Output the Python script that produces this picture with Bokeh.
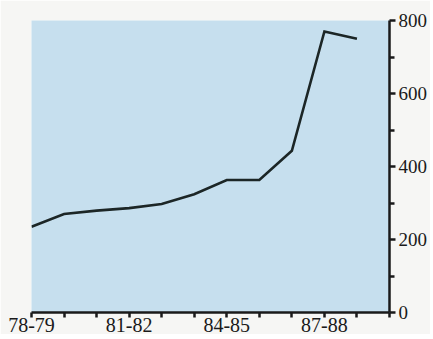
from bokeh.plotting import figure
from bokeh.models import FixedTicker, Range1d
from bokeh.embed import file_html
from bokeh.resources import INLINE

years = ["78-79", "79-80", "80-81", "81-82", "82-83", "83-84", "84-85",
         "85-86", "86-87", "87-88", "88-89", "89-90"]
labelled = ["78-79", "81-82", "84-85", "87-88"]
values = [235, 270, 279, 286, 297, 324, 363, 363, 443, 770, 750]
y_ticks = [0, 200, 400, 600, 800]
y_minor = [100, 300, 500, 700]

xs = list(range(len(values)))
FONT = "Liberation Serif"

p = figure(frame_width=358, frame_height=292, output_backend="svg",
           toolbar_location=None, y_axis_location="right",
           x_range=Range1d(0, len(years) - 1), y_range=Range1d(0, 800),
           min_border_left=31, min_border_top=20, min_border_right=0,
           min_border_bottom=0)
p.background_fill_color = "#c6dfee"
p.border_fill_color = "#f6f6f4"
p.outline_line_color = None
p.xgrid.visible = False
p.ygrid.visible = False

p.line(xs, values, line_color="#1c2626", line_width=2.6, line_join="miter")

xa = p.xaxis[0]
xa.ticker = FixedTicker(ticks=list(range(len(years))))
xa.major_label_overrides = {i: (y if y in labelled else "") for i, y in enumerate(years)}
xa.major_tick_in = 0
xa.major_tick_out = 5
xa.minor_tick_line_color = None
xa.axis_line_width = 2.5
xa.major_tick_line_width = 2.5
xa.axis_line_color = "#1a1a1a"
xa.major_tick_line_color = "#1a1a1a"
xa.major_label_text_font = FONT
xa.major_label_text_font_size = "20px"
xa.major_label_text_color = "#1a1a1a"
xa.major_label_standoff = 0

ya = p.yaxis[0]
ya.ticker = FixedTicker(ticks=y_ticks, minor_ticks=y_minor)
ya.major_tick_in = 0
ya.major_tick_out = 6
ya.minor_tick_in = 0
ya.minor_tick_out = 5
ya.axis_line_width = 2.5
ya.major_tick_line_width = 2.5
ya.minor_tick_line_width = 2.5
ya.axis_line_color = "#1a1a1a"
ya.major_tick_line_color = "#1a1a1a"
ya.minor_tick_line_color = "#1a1a1a"
ya.major_label_text_font = FONT
ya.major_label_text_font_size = "19px"
ya.major_label_text_color = "#1a1a1a"
ya.major_label_standoff = 3

open("out.html", "w").write(file_html(p, INLINE))
